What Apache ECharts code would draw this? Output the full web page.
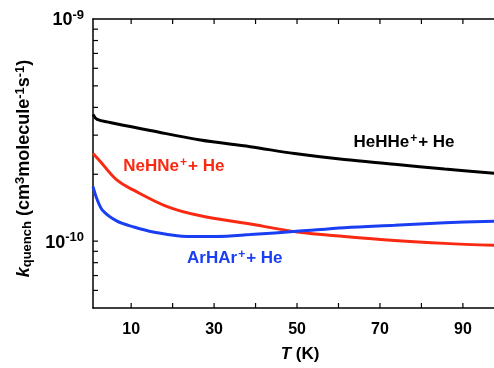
<!DOCTYPE html>
<html>
<head>
<meta charset="utf-8">
<title>k quench</title>
<script src="https://cdn.jsdelivr.net/npm/echarts@6/dist/echarts.min.js"></script>
<style>
  html, body { margin: 0; padding: 0; background: #fff; }
  #chart { width: 494px; height: 368px; }
</style>
</head>
<body>
<div id="chart"></div>
<script>
// T in K, k in cm^3 molecule^-1 s^-1
var heT = [0.8, 1.8, 4.9, 14.6, 26.7, 38.7, 49.4, 61.4, 73.5, 85.6, 97.7];
var heK = [3.72e-10, 3.53e-10, 3.42e-10, 3.15e-10, 2.85e-10, 2.66e-10, 2.48e-10, 2.33e-10, 2.22e-10, 2.11e-10, 2.02e-10];

var neT = [0.8, 2.5, 6.6, 10.5, 18.7, 26.7, 38, 50.1, 61.4, 73.5, 85.6, 97.7];
var neK = [2.48e-10, 2.29e-10, 1.88e-10, 1.70e-10, 1.43e-10, 1.30e-10, 1.20e-10, 1.10e-10, 1.05e-10, 1.007e-10, 9.77e-11, 9.57e-11];

var arT = [0.8, 1.8, 3.2, 6.6, 10.5, 15.3, 23.5, 30.3, 38.7, 50.6, 61.4, 73.5, 85.6, 97.7];
var arK = [1.76e-10, 1.54e-10, 1.37e-10, 1.23e-10, 1.16e-10, 1.10e-10, 1.05e-10, 1.05e-10, 1.07e-10, 1.11e-10, 1.15e-10, 1.18e-10, 1.21e-10, 1.23e-10];

var xLabelVals = [10, 30, 50, 70, 90];
var xTickVals = [10, 20, 30, 40, 50, 60, 70, 80, 90];
var yLabelVals = [1e-10, 1e-9];
var yTickVals = [6e-11, 7e-11, 8e-11, 9e-11, 1e-10, 2e-10, 3e-10, 4e-10, 5e-10, 6e-10, 7e-10, 8e-10, 9e-10];

var X_MIN = 0.8, X_MAX = 97.5;
var Y_MIN = 5e-11, Y_MAX = 1e-9;

var FONT = 'Liberation Sans, Arial, Helvetica, sans-serif';
var RED = '#fa2a12';
var BLUE = '#1a3ff2';

function pairs(xs, ys) {
	var out = [];
	for (var i = 0; i < xs.length; i++) out.push([xs[i], ys[i]]);
	return out;
}

function tagLabel(text, color) {
	return {
		show: true,
		position: 'inside',
		formatter: text,
		color: color,
		fontFamily: FONT,
		fontSize: 17,
		fontWeight: 'bold',
		rich: {
			s: { fontSize: 12, fontWeight: 'bold', color: color, fontFamily: FONT, verticalAlign: 'top', padding: [0, 1, 7, 1] }
		}
	};
}

function curve(name, xs, ys, color, tagPos, tagText) {
	return {
		name: name,
		type: 'line',
		data: pairs(xs, ys),
		smooth: 0.35,
		showSymbol: false,
		lineStyle: { color: color, width: 3 },
		itemStyle: { color: color },
		markPoint: {
			symbol: 'circle',
			symbolSize: 1,
			itemStyle: { color: 'rgba(0,0,0,0)' },
			label: tagLabel(tagText, color),
			data: [{ coord: tagPos }]
		}
	};
}

// inward ticks: each one placed by the axis scales, drawn as a short line
function tickSeries(points, dx, dy) {
	return {
		type: 'custom',
		silent: true,
		clip: false,
		z: 5,
		data: points,
		renderItem: function (params, api) {
			var p = api.coord([api.value(0), api.value(1)]);
			return {
				type: 'line',
				shape: { x1: p[0], y1: p[1], x2: p[0] + dx, y2: p[1] + dy },
				style: { stroke: '#000', lineWidth: 1.2 }
			};
		}
	};
}

var bottomTicks = xTickVals.map(function (v) { return [v, Y_MIN]; });
var topTicks = xTickVals.map(function (v) { return [v, Y_MAX]; });
var leftTicks = yTickVals.map(function (v) { return [X_MIN, v]; });

var chart = echarts.init(document.getElementById('chart'));
var option = {
	animation: false,
	backgroundColor: '#fff',
	grid: { left: 93, right: 0, top: 19, bottom: 53 },
	xAxis: [{
		type: 'value',
		min: X_MIN,
		max: X_MAX,
		name: '{i|T} (K)',
		nameLocation: 'middle',
		nameGap: 38,
		nameTextStyle: {
			fontFamily: FONT, fontSize: 17, fontWeight: 'bold', color: '#000',
			padding: [0, 0, 0, 13],
			rich: { i: { fontFamily: FONT, fontSize: 17, fontWeight: 'bold', fontStyle: 'italic', color: '#000' } }
		},
		axisLine: { show: true, lineStyle: { color: '#000', width: 1.5 } },
		axisTick: { show: false },
		axisLabel: { customValues: xLabelVals, margin: 14, fontFamily: FONT, fontSize: 16, fontWeight: 'bold', color: '#000' },
		splitLine: { show: false }
	}, {
		type: 'value',
		position: 'top',
		min: X_MIN,
		max: X_MAX,
		axisLine: { show: true, lineStyle: { color: '#000', width: 1.5 } },
		axisTick: { show: false },
		axisLabel: { show: false },
		splitLine: { show: false }
	}],
	yAxis: {
		type: 'log',
		logBase: 10,
		min: Y_MIN,
		max: Y_MAX,
		name: '{i|k}{sub|quench} (cm{sup|3}molecule{sup|-1}s{sup|-1})',
		nameLocation: 'middle',
		nameRotate: 90,
		nameGap: 52,
		nameTextStyle: {
			fontFamily: FONT, fontSize: 18, fontWeight: 'bold', color: '#000',
			padding: [0, 10, 0, 0],
			rich: {
				i: { fontFamily: FONT, fontSize: 18, fontWeight: 'bold', fontStyle: 'italic', color: '#000' },
				sub: { fontFamily: FONT, fontSize: 13, fontWeight: 'bold', color: '#000', verticalAlign: 'bottom', padding: [7, 0, 0, 0] },
				sup: { fontFamily: FONT, fontSize: 13, fontWeight: 'bold', color: '#000', verticalAlign: 'top', padding: [0, 0, 7, 0] }
			}
		},
		axisLine: { show: true, lineStyle: { color: '#000', width: 1.5 } },
		axisTick: { show: false },
		axisLabel: {
			customValues: yLabelVals,
			margin: 9,
			formatter: function (v) {
				var e = Math.round(Math.log10(v));
				return '{b|10}{s|' + e + '}';
			},
			rich: {
				b: { fontFamily: FONT, fontSize: 18, fontWeight: 'bold', color: '#000', verticalAlign: 'bottom' },
				s: { fontFamily: FONT, fontSize: 13, fontWeight: 'bold', color: '#000', verticalAlign: 'top', padding: [0, 0, 8, 0] }
			}
		},
		splitLine: { show: false }
	},
	series: [
		curve('HeHHe+ + He', heT, heK, '#000', [75.8, 2.78e-10], 'HeHHe{s|+}+ He'),
		curve('NeHNe+ + He', neT, neK, RED, [20.3, 2.17e-10], 'NeHNe{s|+}+ He'),
		curve('ArHAr+ + He', arT, arK, BLUE, [35.0, 8.39e-11], 'ArHAr{s|+}+ He'),
		tickSeries(bottomTicks, 0, -5),
		tickSeries(topTicks, 0, 5),
		tickSeries(leftTicks, 5, 0)
	]
};
chart.setOption(option);
</script>
</body>
</html>
